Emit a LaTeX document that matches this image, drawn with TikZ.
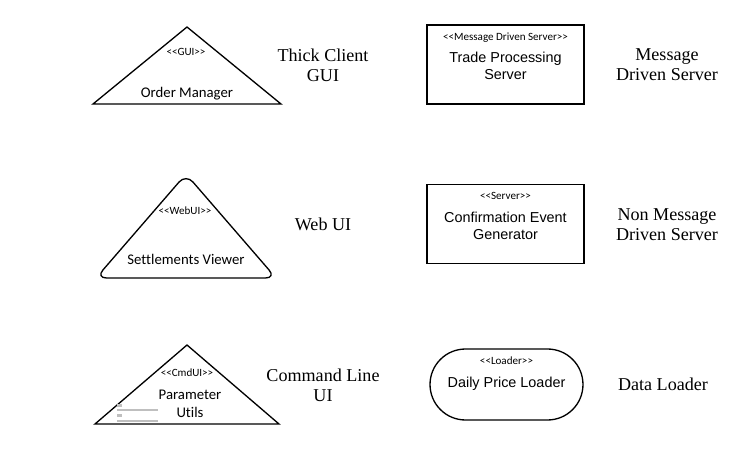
\documentclass[tikz,border=0pt]{standalone}
\usepackage{fontspec}
\setmainfont{Liberation Serif}
\setsansfont{Liberation Sans}
\newfontfamily\calibri{Carlito}[Ligatures=NoCommon]
\usetikzlibrary{positioning,shapes.misc}
\newcommand{\stereotype}[1]{<\kern0pt<#1>\kern0pt>}

\begin{document}
\begin{tikzpicture}[x=0.02cm, y=-0.02cm,
uitri/.style={draw=black, line width=0.75pt},
stereo/.style={font=\calibri\fontsize{6.3}{7}\selectfont, inner sep=0pt},
compname/.style={font=\calibri\fontsize{8.4}{10.5}\selectfont, align=center, inner sep=0pt},
srvbox/.style={draw=black, line width=0.75pt, minimum width=3.14cm, minimum height=1.58cm, inner sep=0pt},
loaderbox/.style={draw=black, line width=0.75pt, rounded rectangle, minimum width=3.06cm, minimum height=1.42cm, inner sep=0pt},
srvname/.style={font=\sffamily\fontsize{8.2}{10}\selectfont, align=center, inner sep=0pt},
kind/.style={font=\rmfamily\fontsize{10.3}{11.5}\selectfont, align=center, inner sep=0pt}
]
\useasboundingbox (0,0) rectangle (737,449);

% left column: user interfaces
\draw[uitri] (187,27) -- (281,104) -- (93,104) -- cycle;
\node[stereo] (gui) at (186,52) {\stereotype{GUI}};
\node[compname] (ordmgr) at (187,94) {Order Manager};
\node[kind] (thick) at (323,65) {Thick Client\\GUI};

\draw[uitri, rounded corners=6pt] (186,174) -- (276,278) -- (96,278) -- cycle;
\node[stereo] (webui) at (185,211) {\stereotype{WebUI}};
\node[compname] (settle) at (186,259) {Settlements Viewer};
\node[kind] (web) at (323,224) {Web UI};

\draw[uitri] (187,345) -- (279,424) -- (95,424) -- cycle;
\node[stereo] (cmdui) at (187,373) {\stereotype{CmdUI}};
\node[compname] (params) at (190,404) {Parameter\\Utils};
\draw[gray!50, line width=1.2pt] (117,405.5) -- (122,405.5);
\draw[gray!50, line width=1.2pt] (117,415.5) -- (122,415.5);
\draw[gray!50, line width=0.6pt] (117,410) -- (158,410);
\draw[gray!50, line width=0.6pt] (117,421) -- (158,421);
\node[kind] (cmdline) at (323,385) {Command Line\\UI};

% right column: servers and loader
\node[srvbox] (tps) at (505.5,64.5) {};
\node[stereo, below=0.17cm of tps.north] (mds) {\stereotype{Message Driven Server}};
\node[srvname] (tpsname) at (505.5,66) {Trade Processing\\Server};
\node[kind] (msgsrv) at (667,65) {Message\\Driven Server};

\node[srvbox] (ceg) at (505.5,224) {};
\node[stereo, below=0.17cm of ceg.north] (srv) {\stereotype{Server}};
\node[srvname] (cegname) at (505.5,226) {Confirmation Event\\Generator};
\node[kind] (nonmsg) at (667,225) {Non Message\\Driven Server};

\node[loaderbox] (dpl) at (506.5,384.5) {};
\node[stereo, below=0.16cm of dpl.north] (ldr) {\stereotype{Loader}};
\node[srvname] (dplname) at (506.5,384) {Daily Price Loader};
\node[kind] (dataldr) at (663,384) {Data Loader};
\end{tikzpicture}
\end{document}
